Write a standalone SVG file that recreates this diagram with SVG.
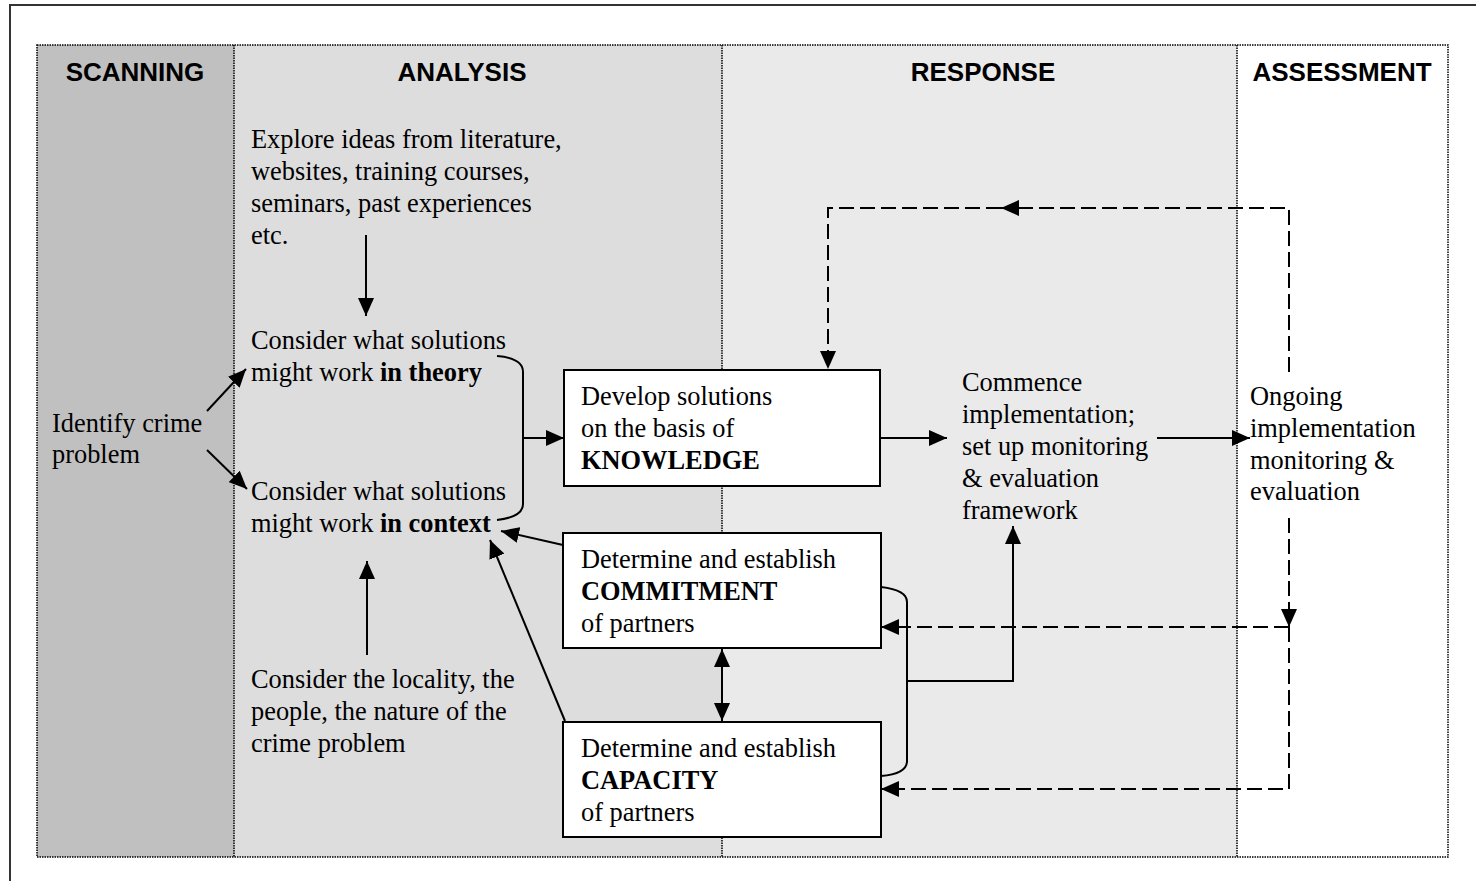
<svg xmlns="http://www.w3.org/2000/svg" width="1476" height="881" viewBox="0 0 1476 881">
<defs>
<style>
.t{font-family:"Liberation Serif","Times New Roman",serif;font-size:26.4px;fill:#000}
.h{font-family:"Liberation Sans",Arial,sans-serif;font-size:26px;font-weight:bold;fill:#000;text-anchor:middle}
.b{font-weight:bold}
.box{fill:#fff;stroke:#000;stroke-width:2}
.ln{fill:none;stroke:#000;stroke-width:2}
.ds{fill:none;stroke:#000;stroke-width:2;stroke-dasharray:15 6}
.dot{fill:none;stroke:#000;stroke-width:1.5;stroke-dasharray:1.5 1}
</style>
<marker id="ah" viewBox="0 0 18 16" refX="18" refY="8" markerWidth="18" markerHeight="16" markerUnits="userSpaceOnUse" orient="auto">
<path d="M0,0 L18,8 L0,16 z" fill="#000"/>
</marker>
<marker id="as" viewBox="0 0 18 16" refX="0" refY="8" markerWidth="18" markerHeight="16" markerUnits="userSpaceOnUse" orient="auto">
<path d="M18,0 L0,8 L18,16 z" fill="#000"/>
</marker>
</defs>
<rect width="1476" height="881" fill="#fff"/>
<path d="M10,881 L10,5 L1476,5" fill="none" stroke="#333" stroke-width="2"/>
<g id="columns">
<rect x="37" y="45" width="197" height="812" fill="#c0c0c0"/>
<rect x="234" y="45" width="488" height="812" fill="#dddddd"/>
<rect x="722" y="45" width="515" height="812" fill="#eaeaea"/>
<rect x="1237" y="45" width="211" height="812" fill="#fff"/>
<rect x="37" y="45" width="1411" height="812" class="dot"/>
<line x1="234" y1="45" x2="234" y2="857" class="dot"/>
<line x1="722" y1="45" x2="722" y2="857" class="dot"/>
<line x1="1237" y1="45" x2="1237" y2="857" class="dot"/>
<text class="h" x="135" y="81">SCANNING</text>
<text class="h" x="462" y="81">ANALYSIS</text>
<text class="h" x="983" y="81">RESPONSE</text>
<text class="h" x="1342" y="81">ASSESSMENT</text>
</g>
<g id="connectors">
<line x1="207" y1="411" x2="246" y2="369" class="ln" marker-end="url(#ah)"/>
<line x1="207" y1="450" x2="247" y2="489" class="ln" marker-end="url(#ah)"/>
<line x1="366" y1="235" x2="366" y2="316" class="ln" marker-end="url(#ah)"/>
<line x1="367" y1="655" x2="367" y2="561" class="ln" marker-end="url(#ah)"/>
<path d="M497,356 Q523,358 523,372 L523,504 Q523,517 497,520" class="ln"/>
<line x1="523" y1="438" x2="564" y2="438" class="ln" marker-end="url(#ah)"/>
<line x1="880" y1="438" x2="947" y2="438" class="ln" marker-end="url(#ah)"/>
<line x1="1157" y1="438" x2="1250" y2="438" class="ln" marker-end="url(#ah)"/>
<line x1="563" y1="545" x2="501" y2="531" class="ln" marker-end="url(#ah)"/>
<line x1="565" y1="721" x2="490" y2="540" class="ln" marker-end="url(#ah)"/>
<line x1="722" y1="649" x2="722" y2="721" class="ln" marker-start="url(#as)" marker-end="url(#ah)"/>
<path d="M881,587 Q907,590 907,602 L907,761 Q907,774 881,776" class="ln"/>
<path d="M907,681 L1013,681 L1013,526" class="ln" marker-end="url(#ah)"/>
<path d="M1289,372 L1289,208 L1001,208" class="ds" marker-end="url(#ah)"/>
<path d="M1001,208 L828,208 L828,369" class="ds" marker-end="url(#ah)"/>
<path d="M1289,518 L1289,627" class="ds" marker-end="url(#ah)"/>
<path d="M1289,627 L881,627" class="ds" marker-end="url(#ah)"/>
<path d="M1289,627 L1289,789 L881,789" class="ds" marker-end="url(#ah)"/>
</g>
<g id="identify">
<text class="t" x="52" y="432">Identify crime</text>
<text class="t" x="52" y="463">problem</text>
</g>
<g id="explore">
<text class="t" x="251" y="148">Explore ideas from literature,</text>
<text class="t" x="251" y="180">websites, training courses,</text>
<text class="t" x="251" y="212">seminars, past experiences</text>
<text class="t" x="251" y="244">etc.</text>
</g>
<g id="theory">
<text class="t" x="251" y="349">Consider what solutions</text>
<text class="t" x="251" y="381">might work <tspan class="b">in theory</tspan></text>
</g>
<g id="context">
<text class="t" x="251" y="500">Consider what solutions</text>
<text class="t" x="251" y="532">might work <tspan class="b">in context</tspan></text>
</g>
<g id="locality">
<text class="t" x="251" y="688">Consider the locality, the</text>
<text class="t" x="251" y="720">people, the nature of the</text>
<text class="t" x="251" y="752">crime problem</text>
</g>
<g id="knowledge">
<rect class="box" x="564" y="370" width="316" height="116"/>
<text class="t" x="581" y="405">Develop solutions</text>
<text class="t" x="581" y="437">on the basis of</text>
<text class="t b" x="581" y="469">KNOWLEDGE</text>
</g>
<g id="commitment">
<rect class="box" x="563" y="533" width="318" height="115"/>
<text class="t" x="581" y="568">Determine and establish</text>
<text class="t b" x="581" y="600">COMMITMENT</text>
<text class="t" x="581" y="632">of partners</text>
</g>
<g id="capacity">
<rect class="box" x="563" y="722" width="318" height="115"/>
<text class="t" x="581" y="757">Determine and establish</text>
<text class="t b" x="581" y="789">CAPACITY</text>
<text class="t" x="581" y="821">of partners</text>
</g>
<g id="commence">
<text class="t" x="962" y="391">Commence</text>
<text class="t" x="962" y="423">implementation;</text>
<text class="t" x="962" y="455">set up monitoring</text>
<text class="t" x="962" y="487">&amp; evaluation</text>
<text class="t" x="962" y="519">framework</text>
</g>
<g id="ongoing">
<text class="t" x="1250" y="405">Ongoing</text>
<text class="t" x="1250" y="437">implementation</text>
<text class="t" x="1250" y="469">monitoring &amp;</text>
<text class="t" x="1250" y="500">evaluation</text>
</g>
</svg>
